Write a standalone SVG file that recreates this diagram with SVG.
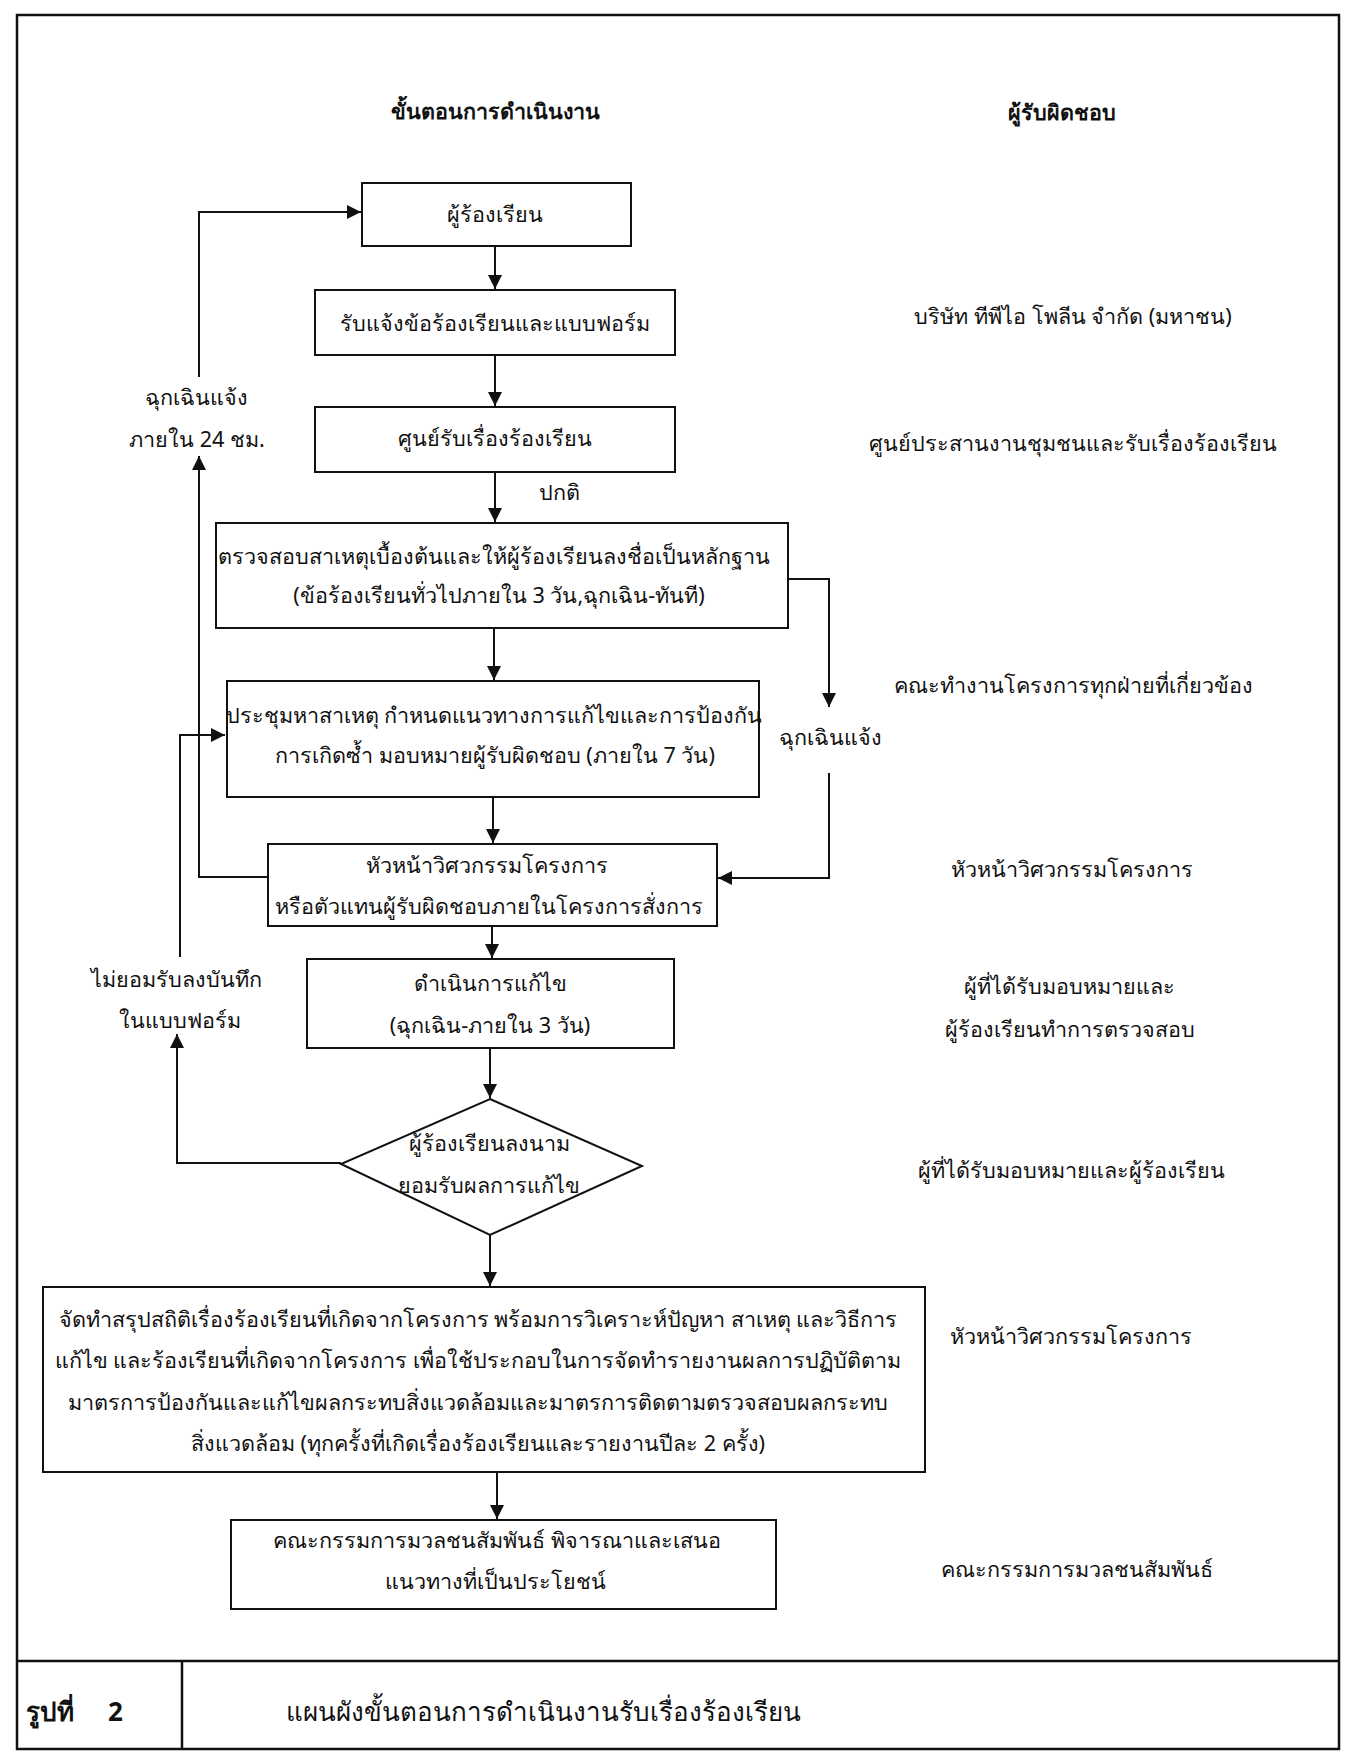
<svg xmlns="http://www.w3.org/2000/svg" width="1348" height="1758" viewBox="0 0 1348 1758">
<style>
text{font-family:"Noto Sans","DejaVu Sans",sans-serif;font-size:21.6px;fill:#111;text-anchor:middle}
.b{font-weight:bold}
.h{font-size:21.5px}
.box{fill:#fff;stroke:#111;stroke-width:2}
.ln{fill:none;stroke:#111;stroke-width:2}
.frame{fill:none;stroke:#111;stroke-width:2.5}
.cap{font-size:26px}
.st{text-anchor:start}
</style>
<defs>
<marker id="ah" viewBox="0 0 10 10" refX="10" refY="5" markerWidth="7" markerHeight="7" orient="auto" markerUnits="strokeWidth">
<path d="M0,0 L10,5 L0,10 Z" fill="#111"/>
</marker>
</defs>
<rect width="1348" height="1758" fill="#fff"/>
<g id="frame">
<rect class="frame" x="17" y="15" width="1322" height="1734"/>
<line class="frame" x1="17" y1="1661" x2="1339" y2="1661"/>
<line class="frame" x1="182" y1="1661" x2="182" y2="1749"/>
</g>
<g id="headers">
<text class="b h" x="495" y="119">ขั้นตอนการดำเนินงาน</text>
<text class="b h" x="1062" y="120">ผู้รับผิดชอบ</text>
</g>
<g id="responsible">
<text x="1073" y="324">บริษัท ทีพีไอ โพลีน จำกัด (มหาชน)</text>
<text x="1073" y="451">ศูนย์ประสานงานชุมชนและรับเรื่องร้องเรียน</text>
<text x="1073" y="693">คณะทำงานโครงการทุกฝ่ายที่เกี่ยวข้อง</text>
<text x="1072" y="877">หัวหน้าวิศวกรรมโครงการ</text>
<text x="1069" y="994">ผู้ที่ได้รับมอบหมายและ</text>
<text x="1070" y="1037">ผู้ร้องเรียนทำการตรวจสอบ</text>
<text x="1071" y="1178">ผู้ที่ได้รับมอบหมายและผู้ร้องเรียน</text>
<text x="1071" y="1344">หัวหน้าวิศวกรรมโครงการ</text>
<text x="1077" y="1577">คณะกรรมการมวลชนสัมพันธ์</text>
</g>
<g id="connectors">
<line class="ln" x1="495" y1="246" x2="495" y2="289" marker-end="url(#ah)"/>
<line class="ln" x1="495" y1="355" x2="495" y2="406" marker-end="url(#ah)"/>
<line class="ln" x1="495" y1="472" x2="495" y2="522" marker-end="url(#ah)"/>
<line class="ln" x1="494" y1="628" x2="494" y2="680" marker-end="url(#ah)"/>
<line class="ln" x1="493" y1="797" x2="493" y2="843" marker-end="url(#ah)"/>
<line class="ln" x1="492" y1="908" x2="492" y2="958" marker-end="url(#ah)"/>
<line class="ln" x1="490" y1="1048" x2="490" y2="1098" marker-end="url(#ah)"/>
<line class="ln" x1="490" y1="1235" x2="490" y2="1286" marker-end="url(#ah)"/>
<line class="ln" x1="497" y1="1464" x2="497" y2="1519" marker-end="url(#ah)"/>
<polyline class="ln" points="267,877 199,877 199,456" marker-end="url(#ah)"/>
<polyline class="ln" points="199,377 199,212 361,212" marker-end="url(#ah)"/>
<polyline class="ln" points="341,1163 177,1163 177,1034" marker-end="url(#ah)"/>
<polyline class="ln" points="180,957 180,735 225,735" marker-end="url(#ah)"/>
<polyline class="ln" points="788,579 829,579 829,707" marker-end="url(#ah)"/>
<polyline class="ln" points="829,773 829,878 718,878" marker-end="url(#ah)"/>
<text x="559" y="500">ปกติ</text>
<text x="196" y="405">ฉุกเฉินแจ้ง</text>
<text x="197" y="447">ภายใน 24 ชม.</text>
<text x="830" y="745">ฉุกเฉินแจ้ง</text>
<text x="176" y="987">ไม่ยอมรับลงบันทึก</text>
<text x="180" y="1028">ในแบบฟอร์ม</text>
</g>
<g id="n1">
<rect class="box" x="362" y="183" width="269" height="63"/>
<text x="495" y="222">ผู้ร้องเรียน</text>
</g>
<g id="n2">
<rect class="box" x="315" y="290" width="360" height="65"/>
<text x="495" y="331">รับแจ้งข้อร้องเรียนและแบบฟอร์ม</text>
</g>
<g id="n3">
<rect class="box" x="315" y="407" width="360" height="65"/>
<text x="495" y="446">ศูนย์รับเรื่องร้องเรียน</text>
</g>
<g id="n4">
<rect class="box" x="216" y="523" width="572" height="105"/>
<text x="494" y="564">ตรวจสอบสาเหตุเบื้องต้นและให้ผู้ร้องเรียนลงชื่อเป็นหลักฐาน</text>
<text x="499" y="603">(ข้อร้องเรียนทั่วไปภายใน 3 วัน,ฉุกเฉิน-ทันที)</text>
</g>
<g id="n5">
<rect class="box" x="227" y="681" width="532" height="116"/>
<text x="494" y="723">ประชุมหาสาเหตุ กำหนดแนวทางการแก้ไขและการป้องกัน</text>
<text x="495" y="763">การเกิดซ้ำ มอบหมายผู้รับผิดชอบ (ภายใน 7 วัน)</text>
</g>
<g id="n6">
<rect class="box" x="268" y="844" width="449" height="82"/>
<text x="487" y="873">หัวหน้าวิศวกรรมโครงการ</text>
<text x="489" y="914">หรือตัวแทนผู้รับผิดชอบภายในโครงการสั่งการ</text>
</g>
<g id="n7">
<rect class="box" x="307" y="959" width="367" height="89"/>
<text x="490" y="991">ดำเนินการแก้ไข</text>
<text x="490" y="1033">(ฉุกเฉิน-ภายใน 3 วัน)</text>
</g>
<g id="n8">
<polygon class="box" points="490,1099 642,1166 490,1235 341,1164"/>
<text x="489" y="1151">ผู้ร้องเรียนลงนาม</text>
<text x="489" y="1193">ยอมรับผลการแก้ไข</text>
</g>
<g id="n9">
<rect class="box" x="43" y="1287" width="882" height="185"/>
<text x="478" y="1327">จัดทำสรุปสถิติเรื่องร้องเรียนที่เกิดจากโครงการ พร้อมการวิเคราะห์ปัญหา สาเหตุ และวิธีการ</text>
<text x="478" y="1368">แก้ไข และร้องเรียนที่เกิดจากโครงการ เพื่อใช้ประกอบในการจัดทำรายงานผลการปฏิบัติตาม</text>
<text x="478" y="1410">มาตรการป้องกันและแก้ไขผลกระทบสิ่งแวดล้อมและมาตรการติดตามตรวจสอบผลกระทบ</text>
<text x="478" y="1451">สิ่งแวดล้อม (ทุกครั้งที่เกิดเรื่องร้องเรียนและรายงานปีละ 2 ครั้ง)</text>
</g>
<g id="n10">
<rect class="box" x="231" y="1520" width="545" height="89"/>
<text x="497" y="1548">คณะกรรมการมวลชนสัมพันธ์ พิจารณาและเสนอ</text>
<text x="495" y="1589">แนวทางที่เป็นประโยชน์</text>
</g>
<g id="caption">
<text class="cap b st" x="26" y="1721">รูปที่<tspan x="108">2</tspan></text>
<text class="cap" x="543" y="1721">แผนผังขั้นตอนการดำเนินงานรับเรื่องร้องเรียน</text>
</g>
</svg>
